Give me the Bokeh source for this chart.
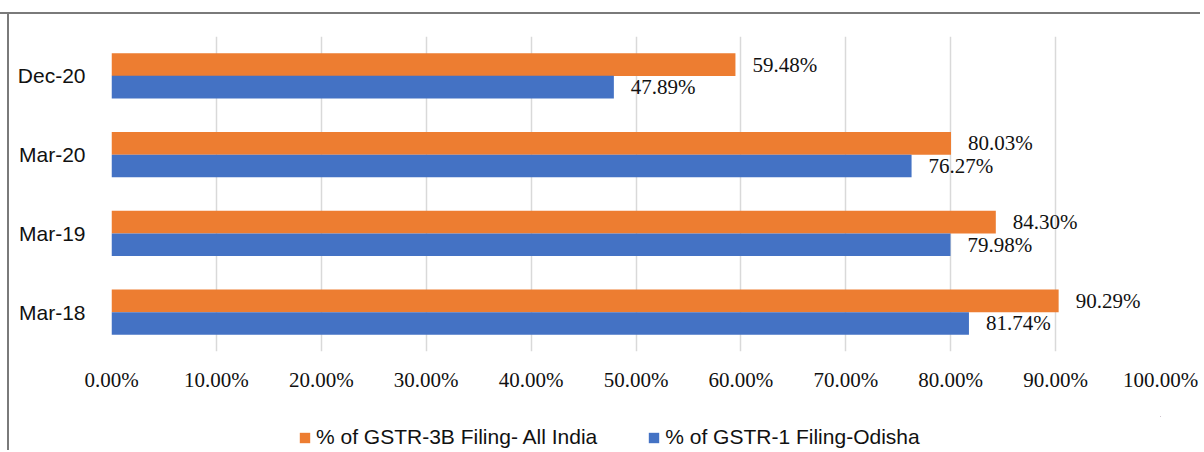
from bokeh.plotting import figure
from bokeh.layouts import column
from bokeh.models import (ColumnDataSource, FactorRange, LabelSet, Legend, LegendItem,
                          FixedTicker, PrintfTickFormatter)
from bokeh.transform import dodge
from bokeh.core.properties import value
from bokeh.embed import file_html
from bokeh.resources import INLINE

# ---- data ----
categories = ["Mar-18", "Mar-19", "Mar-20", "Dec-20"]
gstr3b_all_india = [90.29, 84.30, 80.03, 59.48]
gstr1_odisha = [81.74, 79.98, 76.27, 47.89]
x_ticks = [0, 10, 20, 30, 40, 50, 60, 70, 80, 90, 100]
series_names = ["% of GSTR-3B Filing- All India", "% of GSTR-1 Filing-Odisha"]
series_colors = ["#ED7D31", "#4472C4"]

src = ColumnDataSource(dict(
    cat=categories,
    a=gstr3b_all_india,
    b=gstr1_odisha,
    a_lbl=["%.2f%%" % v for v in gstr3b_all_india],
    b_lbl=["%.2f%%" % v for v in gstr1_odisha],
))

BORDER = "#7a7a7a"

p = figure(width=1200, height=416, output_backend="svg", toolbar_location=None,
           y_range=FactorRange(factors=categories), x_range=(0, 100),
           min_border_left=111, min_border_right=40, min_border_top=36,
           min_border_bottom=65)
p.background_fill_color = "white"
p.border_fill_alpha = 0
p.outline_line_color = None
p.styles = {
    "background": (f"linear-gradient({BORDER},{BORDER}) 0px 12px / 100% 2px no-repeat, "
                   f"linear-gradient({BORDER},{BORDER}) 7px 12px / 2px 100% no-repeat, "
                   "white"),
}

off = 0.143
h = 0.286
ra = p.hbar(y=dodge("cat", off, range=p.y_range), left=0, right="a", height=h,
            source=src, fill_color=series_colors[0], line_color=None)
rb = p.hbar(y=dodge("cat", -off, range=p.y_range), left=0, right="b", height=h,
            source=src, fill_color=series_colors[1], line_color=None)

serif = value("Liberation Serif")
for col, lbl, o in (("a", "a_lbl", off), ("b", "b_lbl", -off)):
    p.add_layout(LabelSet(x=col, y=dodge("cat", o, range=p.y_range), text=lbl,
                          source=src, x_offset=17, text_baseline="middle",
                          text_align="left", text_font=serif,
                          text_font_size="21px", text_color="#111111"))

# axes
p.xaxis.ticker = FixedTicker(ticks=x_ticks)
p.xaxis.formatter = PrintfTickFormatter(format="%.2f%%")
p.xaxis.axis_line_color = None
p.xaxis.major_tick_line_color = None
p.xaxis.minor_tick_line_color = None
p.xaxis.major_label_text_font = "Liberation Serif"
p.xaxis.major_label_text_font_size = "21px"
p.xaxis.major_label_text_color = "#111111"
p.xaxis.major_label_standoff = 10

p.yaxis.axis_line_color = None
p.yaxis.major_tick_line_color = None
p.yaxis.minor_tick_line_color = None
p.yaxis.major_label_text_font = "Liberation Sans"
p.yaxis.major_label_text_font_size = "21px"
p.yaxis.major_label_text_color = "#111111"
p.yaxis.major_label_standoff = 20

p.xgrid.grid_line_color = "#d9d9d9"
p.xgrid.grid_line_width = 1.5
p.xgrid.ticker = FixedTicker(ticks=x_ticks)
p.ygrid.grid_line_color = None

# ---- legend strip below the chart ----
lg = figure(width=1200, height=34, output_backend="svg", toolbar_location=None,
            x_axis_location=None, y_axis_location=None, min_border=0,
            x_range=(-1000, -999), y_range=(-1000, -999))
lg.background_fill_color = "white"
lg.border_fill_alpha = 0
lg.outline_line_color = None
lg.grid.grid_line_color = None
lg.styles = {
    "background": (f"linear-gradient({BORDER},{BORDER}) 7px 0px / 2px 100% no-repeat, "
                   "white"),
}
# legend-only renderers (zero-height, outside the strip's visible range)
la = lg.hbar(y="a", left=0, right="a", height=0, source=src,
             fill_color=series_colors[0], line_color=None)
lb = lg.hbar(y="b", left=0, right="b", height=0, source=src,
             fill_color=series_colors[1], line_color=None)

legend = Legend(items=[LegendItem(label=series_names[0], renderers=[la], index=0),
                       LegendItem(label=series_names[1], renderers=[lb], index=0)],
                orientation="horizontal", location=(187, 1))
legend.label_text_font = "Liberation Sans"
legend.label_text_font_size = "21px"
legend.label_text_color = "#111111"
legend.glyph_width = 13
legend.glyph_height = 13
legend.label_standoff = 5
legend.spacing = 50
legend.padding = 0
legend.margin = 0
legend.border_line_color = None
legend.background_fill_alpha = 0
lg.add_layout(legend, "center")

layout = column(p, lg, spacing=0)
open("out.html", "w").write(file_html(layout, INLINE))
